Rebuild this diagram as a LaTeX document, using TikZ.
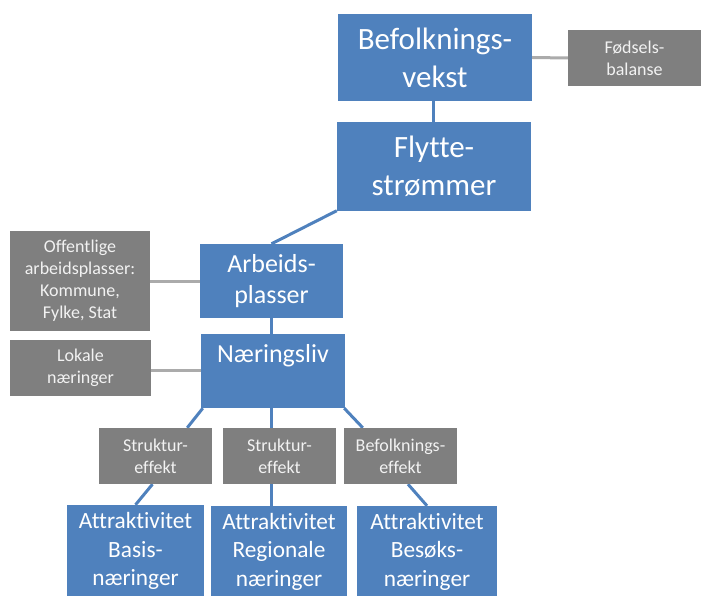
\documentclass[tikz,border=0pt]{standalone}
\usepackage{fontspec}
\setmainfont[Ligatures=NoCommon,RawFeature={-liga;-clig;-calt;-dlig}]{Carlito}
\usetikzlibrary{calc,backgrounds}
\definecolor{boxblue}{HTML}{4F81BD}
\definecolor{boxgray}{HTML}{7F7F7F}
\definecolor{linegray}{HTML}{ABABAB}
\definecolor{graytext}{HTML}{F2F2F2}
\tikzset{
  bluebox/.style={fill=boxblue, draw=none, text=white, inner sep=0pt, align=center},
  graybox/.style={fill=boxgray, draw=none, text=graytext, inner sep=0pt, align=center,
    font=\fontsize{18}{22}\selectfont},
  big/.style={font=\fontsize{31}{38}\selectfont},
  mid/.style={font=\fontsize{26}{31.5}\selectfont},
  small/.style={font=\fontsize{23.3}{28.5}\selectfont},
  blueline/.style={draw=boxblue, line width=3pt},
  grayline/.style={draw=linegray, line width=3pt},
}
\begin{document}
\begin{tikzpicture}[x=1pt,y=-1pt]
\useasboundingbox (0,0) rectangle (701,596);
% blue boxes
\node[bluebox,big,minimum width=194pt,minimum height=87pt] (bv) at (435,57.5) {Befolknings-\\vekst};
\node[bluebox,big,minimum width=194pt,minimum height=88pt] (fs) at (434,166.5) {Flytte-\\strømmer};
\node[bluebox,mid,minimum width=143pt,minimum height=74pt] (ap) at (271.5,281) {Arbeids-\\plasser};
\node[bluebox,mid,minimum width=144pt,minimum height=74pt] (nl) at (273,371) {Næringsliv\\\phantom{g}};
\node[bluebox,small,minimum width=137pt,minimum height=92pt] (a1) at (135.5,551) {Attraktivitet\\Basis-\\næringer};
\node[bluebox,small,minimum width=136pt,minimum height=91pt] (a2) at (279,551.5) {Attraktivitet\\Regionale\\næringer};
\node[bluebox,small,minimum width=140pt,minimum height=91pt] (a3) at (427,551.5) {Attraktivitet\\Besøks-\\næringer};
% gray boxes
\node[graybox,minimum width=133pt,minimum height=56pt] (fb) at (634.5,58) {Fødsels-\\balanse};
\node[graybox,minimum width=140pt,minimum height=100pt] (of) at (80,281) {Offentlige\\arbeidsplasser:\\Kommune,\\Fylke, Stat};
\node[graybox,minimum width=141pt,minimum height=56pt] (lk) at (80.5,368) {Lokale\\næringer};
\node[graybox,minimum width=113pt,minimum height=56pt] (s1) at (155.5,456) {Struktur-\\effekt};
\node[graybox,minimum width=113pt,minimum height=56pt] (s2) at (279.5,456) {Struktur-\\effekt};
\node[graybox,minimum width=113pt,minimum height=56pt] (s3) at (400.5,456) {Befolknings-\\effekt};
% connectors
\begin{scope}[on background layer]
\draw[blueline] ($(bv.south)+(-2,0)$) -- ($(fs.north)+(-1,0)$);
\draw[blueline] (fs.south west) -- (ap.north);
\draw[grayline] (bv.east) -- (fb.west);
\draw[grayline] (of.east) -- (ap.west);
\draw[grayline] ($(lk.east)+(0,2)$) -- ($(nl.west)+(0,-1)$);
\draw[blueline] (ap.south) -- (ap.south |- nl.north);
\draw[blueline] ($(nl.south west)+(2,0)$) -- ($(s1.north east)+(-25,0)$);
\draw[blueline] ($(nl.south)+(-1.5,0)$) -- ($(nl.south |- s2.north)+(-1.5,0)$);
\draw[blueline] ($(nl.south east)+(-1,0)$) -- ($(s3.north west)+(19,0)$);
\draw[blueline] ($(s1.south)+(-3,0)$) -- (a1.north);
\draw[blueline] ($(nl.south |- s2.south)+(-1.5,0)$) -- ($(nl.south |- a2.north)+(-1.5,0)$);
\draw[blueline] ($(s3.south)+(7.5,0)$) -- (a3.north);
\end{scope}
\end{tikzpicture}
\end{document}
